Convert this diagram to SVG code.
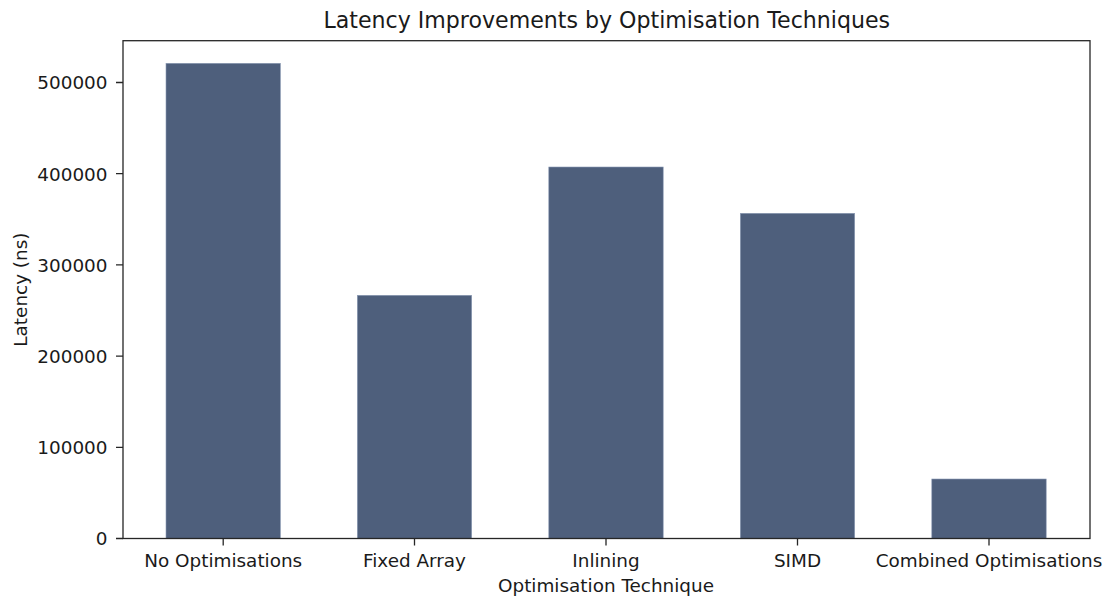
<svg xmlns="http://www.w3.org/2000/svg" width="1107" height="597" viewBox="0 0 1107 597">
<style>
text{font-family:"DejaVu Sans","Liberation Sans",sans-serif;fill:#1a1a1a}
.t{font-size:18.4px}
.ttl{font-size:22.1px}
.bar{fill:#4e5f7c;stroke:#8c9bb5;stroke-width:0.6}
.ax{stroke:#262626;stroke-width:1.3;fill:none}
</style>
<rect width="1107" height="597" fill="#ffffff"/>
<text class="ttl" x="606.8" y="27.5" text-anchor="middle">Latency Improvements by Optimisation Techniques</text>
<g id="bars">
<rect id="bar-no-opt" class="bar" x="166" y="63.3" width="114.4" height="475.2"/>
<rect id="bar-fixed" class="bar" x="357.3" y="295.3" width="114.4" height="243.2"/>
<rect id="bar-inlining" class="bar" x="548.8" y="167" width="114.4" height="371.5"/>
<rect id="bar-simd" class="bar" x="740.3" y="213.3" width="114.4" height="325.2"/>
<rect id="bar-combined" class="bar" x="931.8" y="479" width="114.4" height="59.5"/>
</g>
<g id="axes">
<rect class="ax" x="123" y="40.7" width="967" height="497.8"/>
<path class="ax" d="M116 538.5H123M116 447.3H123M116 356.1H123M116 264.9H123M116 173.7H123M116 82.5H123"/>
<path class="ax" d="M223.2 538.5V545.5M414.5 538.5V545.5M606 538.5V545.5M797.5 538.5V545.5M989 538.5V545.5"/>
</g>
<g id="ytick-labels" class="t" text-anchor="end">
<text x="107.5" y="545.3">0</text>
<text x="107.5" y="454.1">100000</text>
<text x="107.5" y="362.9">200000</text>
<text x="107.5" y="271.7">300000</text>
<text x="107.5" y="180.5">400000</text>
<text x="107.5" y="89.3">500000</text>
</g>
<g id="xtick-labels" class="t" text-anchor="middle">
<text x="223.2" y="567">No Optimisations</text>
<text x="414.5" y="567">Fixed Array</text>
<text x="606" y="567">Inlining</text>
<text x="797.5" y="567">SIMD</text>
<text x="989" y="567">Combined Optimisations</text>
</g>
<text class="t" x="606" y="592" text-anchor="middle">Optimisation Technique</text>
<text class="t" transform="translate(26.5 289.6) rotate(-90)" text-anchor="middle">Latency (ns)</text>
</svg>
